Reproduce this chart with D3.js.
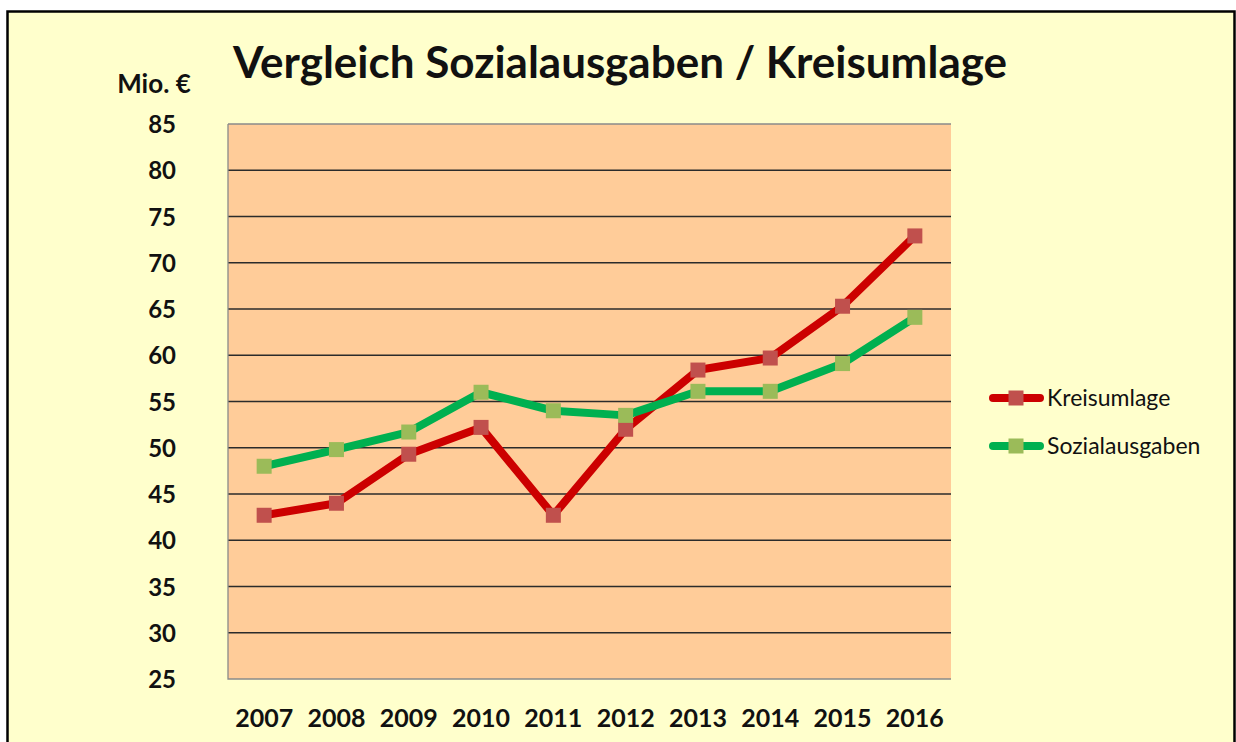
<!DOCTYPE html>
<html>
<head>
<meta charset="utf-8">
<script src="https://cdn.jsdelivr.net/npm/d3@7"></script>
<style>
  html, body { margin: 0; padding: 0; background: #ffffff; }
  svg { display: block; }
  text { font-family: Lato, "Open Sans", "Liberation Sans", sans-serif; }
</style>
</head>
<body>
<svg id="chart" width="1236" height="742"></svg>
<script>
// Jahre und Werte in Mio. €
const years = ["2007", "2008", "2009", "2010", "2011", "2012", "2013", "2014", "2015", "2016"];
const kreisumlage = [42.7, 44.0, 49.3, 52.2, 42.7, 52.0, 58.4, 59.7, 65.3, 72.9];
const sozialausgaben = [48.0, 49.8, 51.7, 56.0, 54.0, 53.5, 56.1, 56.1, 59.1, 64.1];
const yTicks = [25, 30, 35, 40, 45, 50, 55, 60, 65, 70, 75, 80, 85];
const seriesNames = ["Kreisumlage", "Sozialausgaben"];

const svg = d3.select("#chart");

// Rahmen des Diagrammbereichs
svg.append("rect")
  .attr("x", 7.5).attr("y", 11.5)
  .attr("width", 1227).attr("height", 760)
  .attr("fill", "#ffffcc")
  .attr("stroke", "#000").attr("stroke-width", 2.5);

const plot = { left: 228, top: 124, right: 951, bottom: 679 };

const x = d3.scaleBand().domain(years).range([plot.left, plot.right]);
const y = d3.scaleLinear().domain([25, 85]).range([plot.bottom, plot.top]);
const cx = d => x(d) + x.bandwidth() / 2;

// Zeichenfläche
svg.append("rect")
  .attr("x", plot.left).attr("y", plot.top)
  .attr("width", plot.right - plot.left).attr("height", plot.bottom - plot.top)
  .attr("fill", "#ffcc99");

// Hilfslinien
svg.append("g").selectAll("line")
  .data(yTicks.filter(t => t > 25 && t < 85))
  .join("line")
  .attr("x1", plot.left).attr("x2", plot.right)
  .attr("y1", d => y(d)).attr("y2", d => y(d))
  .attr("stroke", "#2b2b2b").attr("stroke-width", 1.3);

// Rand der Zeichenfläche
svg.append("path")
  .attr("d", `M${plot.left},${plot.top}H${plot.right}M${plot.left},${plot.top}V${plot.bottom}H${plot.right}`)
  .attr("fill", "none").attr("stroke", "#8a8a8a").attr("stroke-width", 1.3);

// Y-Achse
const yAxis = d3.axisLeft(y).tickValues(yTicks).tickSize(0).tickPadding(0);
const gy = svg.append("g").attr("transform", "translate(176,0)").call(yAxis);
gy.select(".domain").remove();
gy.selectAll("text")
  .attr("font-size", 24).attr("font-weight", "bold").attr("fill", "#111")
  .attr("font-family", "Lato, 'Open Sans', sans-serif")
  .attr("dy", "0.36em");

// X-Achse
const xAxis = d3.axisBottom(x).tickSize(0).tickPadding(0);
const gx = svg.append("g").attr("transform", `translate(0,${plot.bottom})`).call(xAxis);
gx.select(".domain").remove();
gx.selectAll("text")
  .attr("font-size", 25).attr("font-weight", "bold").attr("fill", "#111")
  .attr("font-family", "Lato, 'Open Sans', sans-serif")
  .attr("y", 48).attr("dy", 0);

// Einheit
svg.append("text")
  .attr("x", 154).attr("y", 93)
  .attr("text-anchor", "middle")
  .attr("font-size", 26).attr("font-weight", "bold").attr("fill", "#111")
  .text("Mio. €");

// Titel
svg.append("text")
  .attr("x", 620).attr("y", 78)
  .attr("text-anchor", "middle")
  .attr("font-size", 44).attr("font-weight", "bold").attr("fill", "#111")
  .text("Vergleich Sozialausgaben / Kreisumlage");

const series = [
  { name: seriesNames[0], values: kreisumlage, line: "#cc0000", marker: "#c0504d" },
  { name: seriesNames[1], values: sozialausgaben, line: "#00b050", marker: "#9bbb59" }
];

const lineGen = d3.line()
  .x((d, i) => cx(years[i]))
  .y(d => y(d));

const ms = 15;
series.forEach(s => {
  svg.append("path")
    .datum(s.values)
    .attr("d", lineGen)
    .attr("fill", "none")
    .attr("stroke", s.line)
    .attr("stroke-width", 8)
    .attr("stroke-linejoin", "round")
    .attr("stroke-linecap", "round");
  svg.append("g").selectAll("rect")
    .data(s.values)
    .join("rect")
    .attr("x", (d, i) => cx(years[i]) - ms / 2)
    .attr("y", d => y(d) - ms / 2)
    .attr("width", ms).attr("height", ms)
    .attr("fill", s.marker);
});

// Legende
const legend = svg.append("g");
series.forEach((s, i) => {
  const ly = 398 + i * 48;
  legend.append("line")
    .attr("x1", 993).attr("x2", 1040)
    .attr("y1", ly).attr("y2", ly)
    .attr("stroke", s.line).attr("stroke-width", 8)
    .attr("stroke-linecap", "round");
  legend.append("rect")
    .attr("x", 1016 - ms / 2).attr("y", ly - ms / 2)
    .attr("width", ms).attr("height", ms)
    .attr("fill", s.marker);
  legend.append("text")
    .attr("x", 1047).attr("y", ly)
    .attr("dy", "0.35em")
    .attr("font-size", 23).attr("fill", "#111")
    .text(s.name);
});
</script>
</body>
</html>
